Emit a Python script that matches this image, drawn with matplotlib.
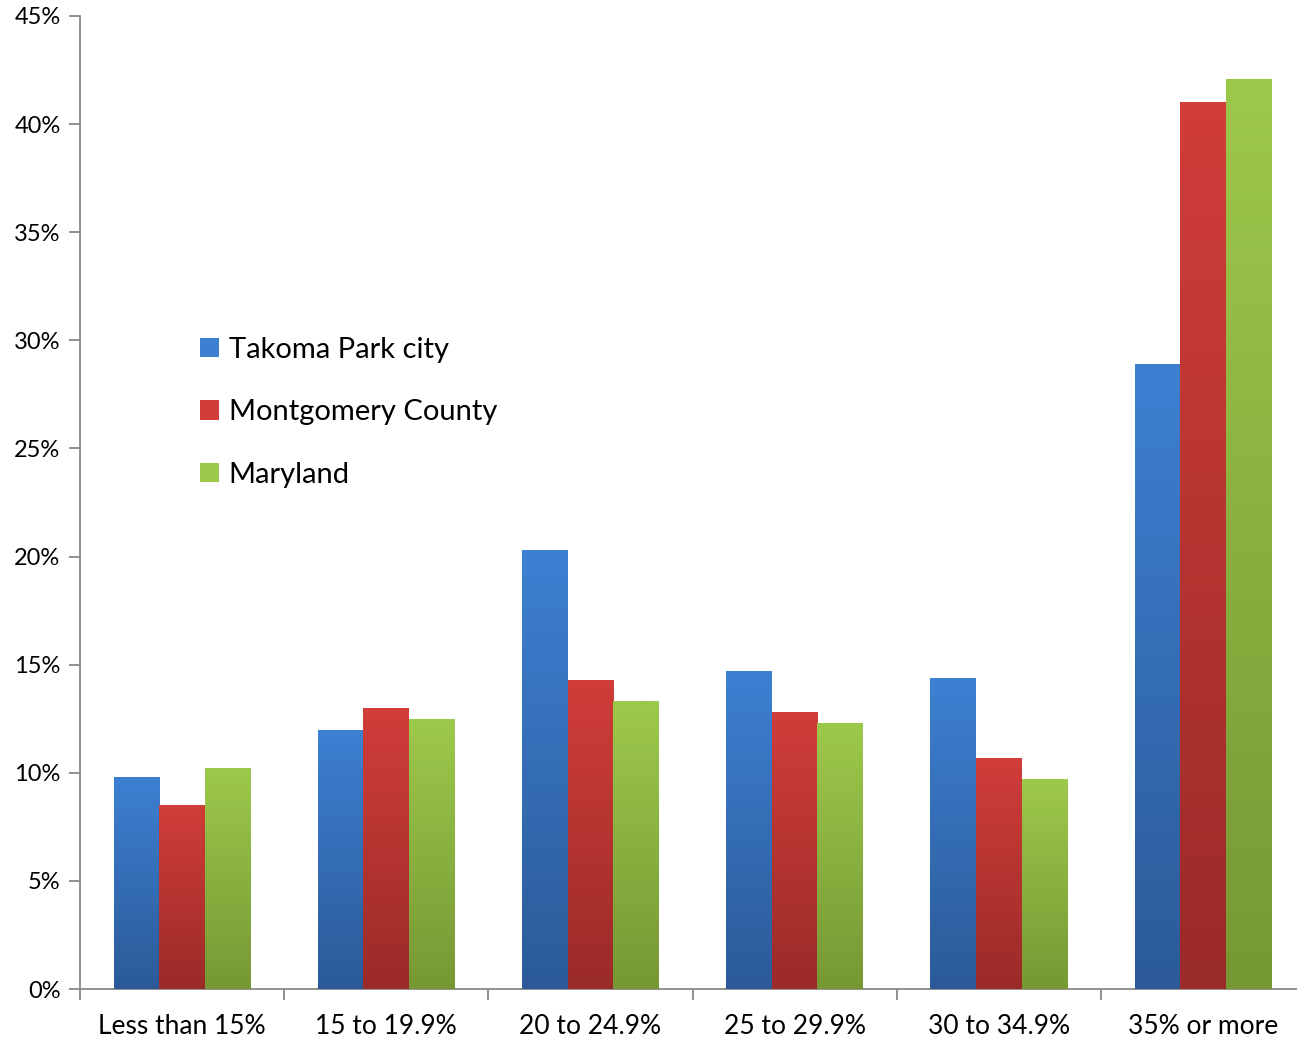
import matplotlib.pyplot as plt
import numpy as np
from matplotlib.colors import LinearSegmentedColormap
from matplotlib.ticker import FuncFormatter

categories = ["Less than 15%", "15 to 19.9%", "20 to 24.9%",
              "25 to 29.9%", "30 to 34.9%", "35% or more"]
takoma = [9.8, 12.0, 20.3, 14.7, 14.4, 28.9]
montgomery = [8.5, 13.0, 14.3, 12.8, 10.7, 41.0]
maryland = [10.2, 12.5, 13.3, 12.3, 9.7, 42.1]
series_names = ["Takoma Park city", "Montgomery County", "Maryland"]

# (top colour, bottom colour) for each series
gradients = [("#3d80d2", "#2c5a98"),
             ("#d13d39", "#9a2b28"),
             ("#9dc94b", "#769834")]

plt.rcParams['font.family'] = ['Lato', 'DejaVu Sans']

fig = plt.figure(figsize=(12.97, 10.42), dpi=100)
# axis runs a little past the right edge of the picture, as in the original
ax = fig.add_axes([80 / 1297, 53 / 1042, 1225 / 1297, (989 - 16) / 1042])
ax.spines['bottom'].set_clip_on(False)

x = np.arange(len(categories))
w = 0.223
grad = np.linspace(0, 1, 256).reshape(-1, 1)
for i, (vals, name, (top, bot)) in enumerate(zip([takoma, montgomery, maryland],
                                                 series_names, gradients)):
    bars = ax.bar(x + (i - 1) * w, vals, width=w, color=top, label=name,
                  linewidth=0, zorder=2)
    cmap = LinearSegmentedColormap.from_list(name, [bot, top])
    for b in bars:
        im = ax.imshow(grad, cmap=cmap, aspect='auto', origin='lower',
                       extent=[b.get_x(), b.get_x() + b.get_width(), 0, b.get_height()],
                       zorder=3)
        im.set_clip_path(b)

ax.set_xlim(-0.5, len(categories) - 0.5)
ax.set_ylim(0, 45)
ax.set_yticks(np.arange(0, 46, 5))
ax.yaxis.set_major_formatter(FuncFormatter(lambda v, p: f"{v:.0f}%"))
ax.set_xticks(x)
ax.set_xticklabels(categories, fontsize=19)
ax.set_xticks(np.arange(-0.5, len(categories) - 0.5, 1), minor=True)
ax.tick_params(axis='x', which='major', length=0, pad=18)
ax.tick_params(axis='x', which='minor', length=8, color='#888888', width=1.3)
ax.tick_params(axis='y', length=8, color='#888888', width=1.3, labelsize=17, pad=6)

for s in ['top', 'right']:
    ax.spines[s].set_visible(False)
for s in ['left', 'bottom']:
    ax.spines[s].set_color('#888888')
    ax.spines[s].set_linewidth(1.3)

ax.legend(frameon=False, fontsize=21, loc='upper left',
          bbox_to_anchor=(108 / 1225, (989 - 325) / 973),
          handlelength=0.65, handleheight=0.65, handletextpad=0.35,
          labelspacing=1.25, borderaxespad=0)

fig.savefig("out.png", dpi=100)
